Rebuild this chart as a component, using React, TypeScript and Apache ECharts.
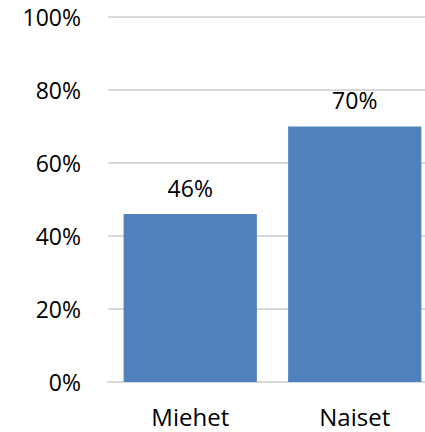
import React, { useEffect, useRef } from "react";
import * as echarts from "echarts";

const categories = ["Miehet", "Naiset"];
const values = [46, 70];
const yTicks = [0, 20, 40, 60, 80, 100];

const FONT = "Open Sans";

export default function App() {
  const ref = useRef<HTMLDivElement>(null);
  useEffect(() => {
    document.body.style.margin = "0";
    const chart = echarts.init(ref.current!, null, { renderer: "svg" });
    chart.setOption({
      animation: false,
      grid: {
        left: 108,
        top: 17,
        width: 329,
        height: 365,
        containLabel: false,
        outerBoundsMode: "none",
      },
      xAxis: {
        type: "category",
        data: categories,
        axisLine: { lineStyle: { color: "#d9d9d9", width: 2 } },
        axisTick: { show: false },
        axisLabel: { color: "#000", fontSize: 24, fontFamily: FONT, margin: 22 },
      },
      yAxis: {
        type: "value",
        min: yTicks[0],
        max: yTicks[yTicks.length - 1],
        interval: 20,
        axisLine: { show: false },
        axisTick: { show: false },
        splitLine: { lineStyle: { color: "#d9d9d9", width: 2 } },
        axisLabel: {
          color: "#000",
          fontSize: 23,
          fontFamily: FONT,
          margin: 27,
          formatter: "{value}%",
        },
      },
      series: [
        {
          type: "bar",
          data: values,
          barCategoryGap: "19%",
          itemStyle: { color: "#4f81bd" },
          label: {
            show: true,
            position: "top",
            distance: 15,
            color: "#000",
            fontSize: 23,
            fontFamily: FONT,
            formatter: "{c}%",
          },
        },
      ],
    });
    return () => chart.dispose();
  }, []);
  return <div ref={ref} style={{ width: 425, height: 432 }} />;
}
